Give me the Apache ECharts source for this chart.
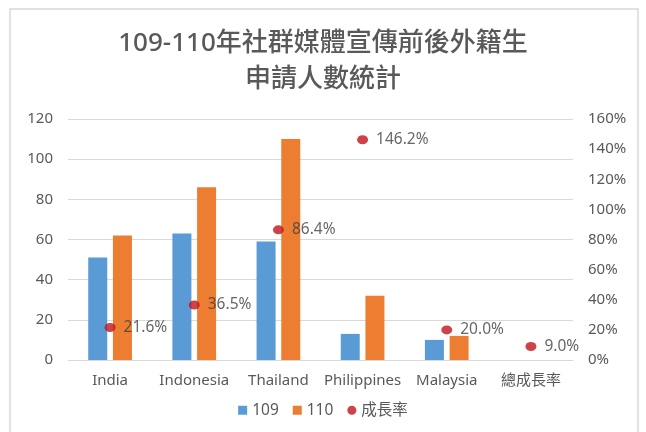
<!DOCTYPE html>
<html>
<head>
<meta charset="utf-8">
<script src="https://cdn.jsdelivr.net/npm/echarts@6/dist/echarts.min.js"></script>
<style>
html,body{margin:0;padding:0;background:#fff;}
#main{width:646px;height:432px;}
</style>
</head>
<body>
<div id="main"></div>
<script>
var categories = ['India', 'Indonesia', 'Thailand', 'Philippines', 'Malaysia', '總成長率'];
var values109 = [51, 63, 59, 13, 10, null];
var values110 = [62, 86, 110, 32, 12, null];
var growthRate = [21.6, 36.5, 86.4, 146.2, 20.0, 9.0];
var leftTicks = { min: 0, max: 120, interval: 20 };
var rightTicks = { min: 0, max: 160, interval: 20 };

var myChart = echarts.init(document.getElementById('main'));
var fontFam = '"Noto Sans", "Noto Sans CJK TC", sans-serif';

var option = {
    backgroundColor: '#fff',
    textStyle: { fontFamily: fontFam },
    title: {
        text: '109-110年社群媒體宣傳前後外籍生\n申請人數統計',
        left: 'center',
        top: 21,
        textStyle: {
            fontSize: 26,
            fontWeight: 500,
            color: '#595959',
            lineHeight: 36,
            fontFamily: fontFam
        }
    },
    graphic: [
        {
            type: 'rect',
            shape: { x: 10, y: 9, width: 628, height: 430 },
            style: { fill: 'none', stroke: '#d9d9d9', lineWidth: 1.5 },
            silent: true
        }
    ],
    legend: {
        bottom: 9,
        left: 'center',
        itemWidth: 9,
        itemHeight: 9,
        itemGap: 14,
        textStyle: { fontSize: 15.5, color: '#595959' },
        data: [
            { name: '109', icon: 'rect' },
            { name: '110', icon: 'rect' },
            { name: '成長率', icon: 'circle' }
        ]
    },
    grid: {
        left: 68,
        right: 73,
        top: 119,
        bottom: 72
    },
    xAxis: {
        type: 'category',
        data: categories,
        axisTick: { show: false },
        axisLine: { lineStyle: { color: '#d9d9d9' } },
        axisLabel: {
            fontSize: 15,
            color: '#595959',
            margin: 13,
            interval: 0
        }
    },
    yAxis: [
        {
            type: 'value',
            min: leftTicks.min,
            max: leftTicks.max,
            interval: leftTicks.interval,
            axisLine: { show: false },
            axisTick: { show: false },
            splitLine: { lineStyle: { color: '#d9d9d9' } },
            axisLabel: { fontSize: 15, color: '#595959', margin: 15 }
        },
        {
            type: 'value',
            min: rightTicks.min,
            max: rightTicks.max,
            interval: rightTicks.interval,
            axisLine: { show: false },
            axisTick: { show: false },
            splitLine: { show: false },
            axisLabel: { fontSize: 15, color: '#595959', margin: 15, formatter: '{value}%' }
        }
    ],
    series: [
        {
            name: '109',
            type: 'bar',
            data: values109,
            barWidth: 19,
            barGap: '30%',
            itemStyle: { color: '#5b9bd5' }
        },
        {
            name: '110',
            type: 'bar',
            data: values110,
            barWidth: 19,
            barGap: '30%',
            itemStyle: { color: '#ed7d31' }
        },
        {
            name: '成長率',
            type: 'scatter',
            yAxisIndex: 1,
            data: growthRate,
            symbol: 'circle',
            symbolSize: [11, 9],
            itemStyle: { color: '#c0141c' },
            label: {
                show: true,
                position: 'right',
                distance: 8,
                fontSize: 15.5,
                color: '#404040',
                formatter: function (p) { return p.value.toFixed(1) + '%'; }
            },
            z: 5
        }
    ]
};

myChart.setOption(option);
</script>
</body>
</html>
